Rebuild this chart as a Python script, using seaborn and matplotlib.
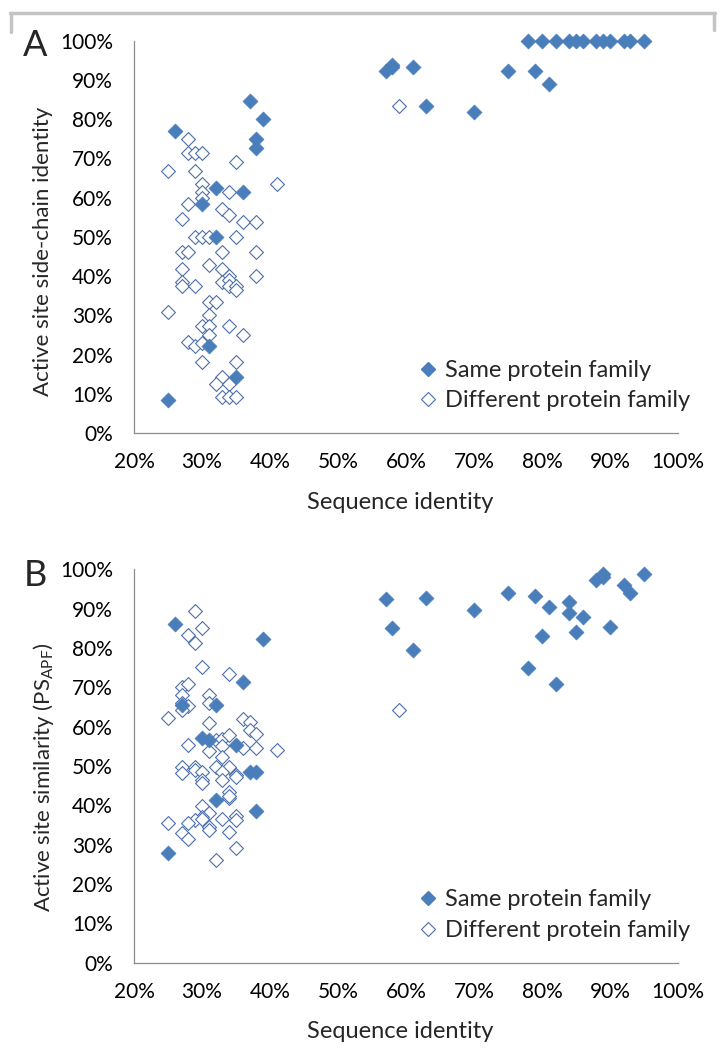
import numpy as np
import pandas as pd
import matplotlib.pyplot as plt
import seaborn as sns
from matplotlib.lines import Line2D
from matplotlib.ticker import PercentFormatter, MultipleLocator

# Panel A: sequence identity vs active site side-chain identity (%)
a_same_x = [25, 26, 30, 31, 32, 32, 35, 36, 37, 38, 38, 39,
            57, 58, 58, 61, 63, 70, 75, 79, 81,
            78, 80, 82, 84, 85, 86, 88, 89, 90, 92, 93, 95]
a_same_y = [8.3, 76.9, 58.3, 22.2, 62.5, 50, 14.3, 61.5, 84.6, 75, 72.7, 80,
            92.3, 93.8, 93.3, 93.3, 83.3, 81.8, 92.3, 92.3, 88.9,
            100, 100, 100, 100, 100, 100, 100, 100, 100, 100, 100, 100]
a_diff_x = [28, 28, 29, 30, 35, 25, 29, 30, 41, 30, 34, 30, 28, 33, 34, 27,
            36, 38, 29, 30, 31, 35, 27, 28, 33, 38, 31, 27, 33, 34, 38, 33,
            34, 27, 27, 29, 34, 35, 35, 31, 32, 25, 31, 30, 31, 34, 36, 31,
            28, 29, 30, 30, 35, 33, 32, 34, 33, 34, 35, 59]
a_diff_y = [75, 71.4, 71.4, 71.4, 69.2, 66.7, 66.7, 63.6, 63.6, 61.5, 61.5,
            60, 58.3, 57.1, 55.6, 54.5, 53.8, 53.8, 50, 50, 50, 50, 46.2, 46.2,
            46.2, 46.2, 42.9, 41.7, 41.7, 40, 40, 38.5, 38.9, 38.5, 37.5, 37.5,
            37.5, 37.5, 36.4, 33.3, 33.3, 30.8, 30, 27.3, 27.3, 27.3, 25, 25,
            23.1, 22.2, 23, 18.2, 18.2, 14.3, 12.5, 12.5, 9.1, 9.1, 9.1, 83.3]

# Panel B: sequence identity vs active site similarity PS_APF (%)
b_same_x = [26, 39, 36, 27, 32, 30, 31, 35, 37, 38, 32, 38, 25,
            57, 58, 61, 63, 70, 75, 79, 78, 81, 80, 82, 84, 84, 86, 85,
            88, 89, 89, 92, 93, 90, 95]
b_same_y = [86.1, 82.3, 71.3, 65.6, 65.4, 57, 56.7, 55.4, 48.4, 48.5, 41.4,
            38.6, 28,
            92.5, 85.2, 79.5, 92.7, 89.6, 94, 93.3, 74.8, 90.3, 83.1, 70.9,
            91.6, 88.8, 88, 84, 97.2, 98.1, 98.7, 95.9, 93.9, 85.3, 98.7]
b_diff_x = [29, 28, 30, 29, 30, 34, 27, 28, 27, 31, 27, 28, 27, 31, 25, 31,
            36, 37, 37, 38, 32, 33, 34, 33, 28, 36, 38, 41, 31, 33, 32, 34,
            33, 27, 27, 29, 29, 30, 30, 30, 33, 35, 35, 34, 34, 34, 30, 31,
            30, 29, 28, 30, 33, 35, 35, 25, 31, 31, 27, 28, 34, 35, 32, 59]
b_diff_y = [89.3, 83.3, 85.2, 81.2, 75.1, 73.4, 70.1, 70.9, 68, 68, 65.9,
            65.3, 64.3, 66, 62.3, 61, 62, 61.2, 59.2, 58.2, 56.6, 56.9, 57.8,
            55, 55.4, 54.6, 54.6, 54, 53.8, 52.2, 49.8, 49.8, 48.5, 49.8, 48.2,
            49.8, 49, 48.5, 46.4, 45.6, 46.4, 47.7, 47.1, 43.5, 41.8, 42.3,
            39.8, 38.1, 37.1, 36.3, 35.6, 36.6, 36.5, 37.3, 36.3, 35.4, 34.6,
            33.8, 33, 31.5, 33.3, 29.2, 26.1, 64.3]

labels = ['Same protein family', 'Different protein family']
ylabels = ['Active site side-chain identity',
           r'Active site similarity (PS$_{\mathrm{APF}}$)']

blue = '#4a7ebb'
edge = '#4d6fad'
axis_grey = '#8c8c8c'

sns.set_style('white')
plt.rcParams['font.family'] = ['Lato', 'DejaVu Sans']
plt.rcParams['mathtext.fontset'] = 'custom'
plt.rcParams['mathtext.rm'] = 'Lato'

fig = plt.figure(figsize=(7.25, 10.5), dpi=100)
ax_a = fig.add_axes([0.1848, 0.5876, 0.7503, 0.3736])
ax_b = fig.add_axes([0.1848, 0.0831, 0.7503, 0.3747])

panels = [
    (ax_a, a_same_x, a_same_y, a_diff_x, a_diff_y, 'A', 46, 0.462),
    (ax_b, b_same_x, b_same_y, b_diff_x, b_diff_y, 'B', 576, 0.472),
]

for i, (ax, sx, sy, dx, dy, letter, ly, ylab_pos) in enumerate(panels):
    same = pd.DataFrame({'x': np.array(sx) / 100, 'y': np.array(sy) / 100})
    diff = pd.DataFrame({'x': np.array(dx) / 100, 'y': np.array(dy) / 100})
    sns.scatterplot(data=diff, x='x', y='y', ax=ax, marker='D', s=50,
                    color='white', edgecolor=edge, linewidth=0.8, zorder=3,
                    clip_on=False)
    sns.scatterplot(data=same, x='x', y='y', ax=ax, marker='D', s=58,
                    color=blue, edgecolor=blue, linewidth=0.5, zorder=4,
                    clip_on=False)

    ax.set_xlim(0.2, 1.0)
    ax.set_ylim(0, 1.0)
    ax.xaxis.set_major_locator(MultipleLocator(0.1))
    ax.yaxis.set_major_locator(MultipleLocator(0.1))
    ax.xaxis.set_major_formatter(PercentFormatter(1.0, decimals=0))
    ax.yaxis.set_major_formatter(PercentFormatter(1.0, decimals=0))
    ax.tick_params(axis='both', direction='out', length=4, width=0.8,
                   color=axis_grey, labelsize=15, labelcolor='black')
    ax.tick_params(axis='y', pad=11)
    ax.tick_params(axis='x', pad=10)
    for side in ['top', 'right']:
        ax.spines[side].set_visible(False)
    for side in ['left', 'bottom']:
        ax.spines[side].set_color(axis_grey)
        ax.spines[side].set_linewidth(0.9)

    ax.set_xlabel('Sequence identity', fontsize=17, va='center')
    ax.xaxis.set_label_coords(0.49, -0.176)
    ax.set_ylabel(ylabels[i], fontsize=16, va='center')
    ax.yaxis.set_label_coords(-0.167, ylab_pos)

    handles = [
        Line2D([], [], marker='D', ls='none', ms=7.5, color=blue,
               markeredgecolor=blue),
        Line2D([], [], marker='D', ls='none', ms=7, markerfacecolor='white',
               markeredgecolor=edge, markeredgewidth=0.8),
    ]
    ax.legend(handles, labels, loc='center left', bbox_to_anchor=(0.529, 0.121),
              frameon=False, fontsize=17, borderpad=0, borderaxespad=0,
              handlelength=0.5, handletextpad=0.5, labelspacing=0.4)

    fig.text(35 / 725, 1 - ly / 1050, letter, fontsize=26, ha='center',
             va='center')

# light grey frame fragment across the top
frame_kw = dict(color='#c4c4c4', lw=2.5, transform=fig.transFigure)
fig.add_artist(Line2D([10 / 725, 715 / 725], [1 - 13 / 1050] * 2, **frame_kw))
fig.add_artist(Line2D([11 / 725] * 2, [1 - 13 / 1050, 1 - 32 / 1050], **frame_kw))
fig.add_artist(Line2D([714 / 725] * 2, [1 - 13 / 1050, 1 - 30 / 1050], **frame_kw))

fig.savefig('out.png', dpi=100)
